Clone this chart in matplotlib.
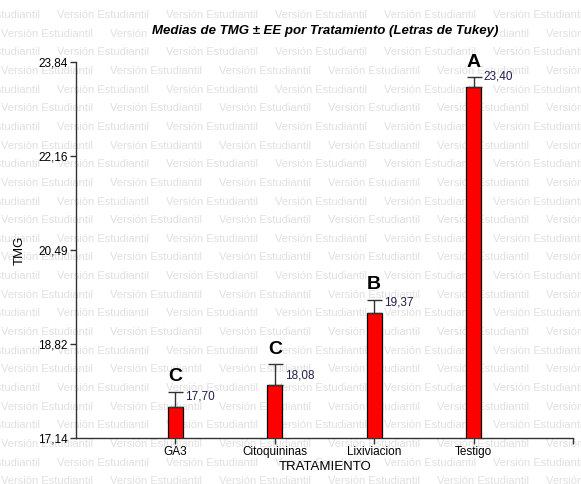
import matplotlib
matplotlib.use("Agg")
import matplotlib.pyplot as plt
import numpy as np

categories = ["GA3", "Citoquininas", "Lixiviacion", "Testigo"]
means = [17.70, 18.08, 19.37, 23.40]
errors = [0.26, 0.37, 0.23, 0.17]
letters = ["C", "C", "B", "A"]
yticks = [17.14, 18.82, 20.49, 22.16, 23.84]
ytick_labels = ["17,14", "18,82", "20,49", "22,16", "23,84"]

plt.rcParams['font.family'] = ['Liberation Sans', 'DejaVu Sans']

W, H = 581, 484
fig = plt.figure(figsize=(W / 100, H / 100), dpi=100)

# watermark
wm_color = '#e0e0e0'
row_y = 15.0
r = 0
while row_y < H + 10:
    off = 57 if r % 2 == 0 else 1
    x = off - 109 * 2
    while x < W + 10:
        fig.text(x / W, 1 - row_y / H, "Versión Estudiantil", fontsize=8.0,
                 color=wm_color, ha='left', va='center', zorder=0)
        x += 109
    row_y += 18.65
    r += 1

left, right, top, bottom = 76, 573, 62, 438
ax = fig.add_axes([left / W, 1 - bottom / H, (right - left) / W, (bottom - top) / H])
ax.set_zorder(2)
ax.patch.set_alpha(0)

xpos = np.arange(1, len(categories) + 1)
ax.bar(xpos, means, width=0.15, bottom=0, color='#ff0000', edgecolor='black',
       linewidth=0.9, zorder=3)
ax.errorbar(xpos, means, yerr=[np.zeros(len(errors)), errors], fmt='none',
            ecolor='#333333', elinewidth=1, capsize=5.4, capthick=1, zorder=4)

for xi, m, e, lt in zip(xpos, means, errors, letters):
    ax.annotate(lt, (xi, m + e), xytext=(0, 15), textcoords='offset pixels',
                ha='center', va='center', fontsize=14, fontweight='bold', color='black')
    ax.annotate(f"{m:.2f}".replace('.', ','), (xi, m), xytext=(10, 10),
                textcoords='offset pixels', ha='left', va='center', fontsize=8.5,
                color='#1f1f4a')

ax.set_xlim(0, 5)
ax.set_ylim(17.14, 23.84)
ax.set_xticks(list(xpos) + [5])
ax.set_xticklabels(categories + [""], fontsize=8.5)
ax.set_yticks(yticks)
ax.set_yticklabels(ytick_labels, fontsize=8.5)
ax.tick_params(axis='both', length=4, width=1, color='#333333', pad=2)
for s in ['top', 'right']:
    ax.spines[s].set_visible(False)
for s in ['left', 'bottom']:
    ax.spines[s].set_color('#333333')
    ax.spines[s].set_linewidth(1)

fig.text(325 / W, 1 - 31 / H, "Medias de TMG ± EE por Tratamiento (Letras de Tukey)",
         ha='center', va='center', fontsize=9.5, fontweight='bold', fontstyle='italic',
         zorder=3, bbox=dict(facecolor='white', edgecolor='none', pad=1.5))
fig.text(325 / W, 1 - 467 / H, "TRATAMIENTO", ha='center', va='center', fontsize=9.5,
         zorder=3)
fig.text(20 / W, 1 - 250 / H, "TMG", ha='center', va='center', fontsize=9.5, rotation=90,
         zorder=3)

fig.savefig("out.png", dpi=100)
